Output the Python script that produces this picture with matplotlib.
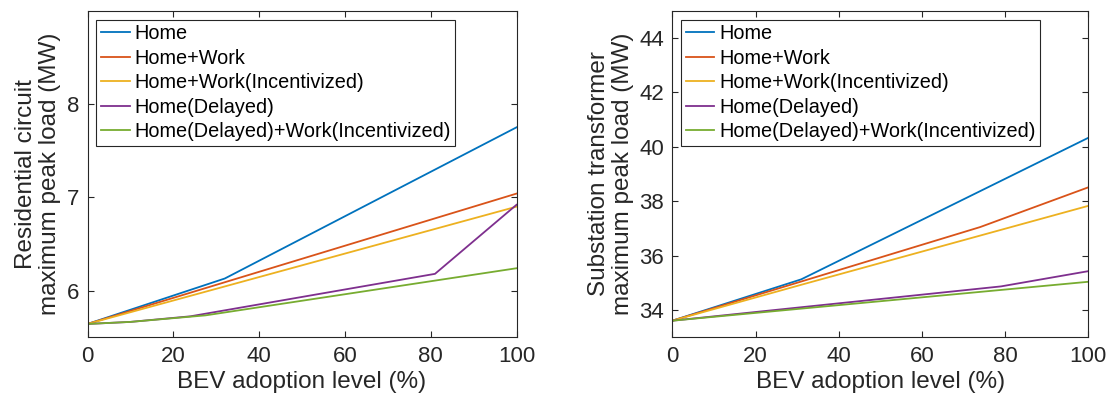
import matplotlib
matplotlib.use("Agg")
import matplotlib.pyplot as plt

plt.rcParams['font.family'] = ['Liberation Sans', 'DejaVu Sans']

series_names = ["Home", "Home+Work", "Home+Work(Incentivized)", "Home(Delayed)",
                "Home(Delayed)+Work(Incentivized)"]
colors = ["#0072BD", "#D95319", "#EDB120", "#7E2F8E", "#77AC30"]

# Left panel: residential circuit (MW)
res_home_x = [0, 32, 100]
res_home_y = [5.643, 6.13, 7.75]
res_hw_x = [0, 32, 100]
res_hw_y = [5.643, 6.09, 7.04]
res_hwi_x = [0, 32, 100]
res_hwi_y = [5.643, 6.045, 6.90]
res_hd_x = [0, 10, 24, 81, 100]
res_hd_y = [5.643, 5.665, 5.725, 6.18, 6.92]
res_hdwi_x = [0, 10, 27.5, 100]
res_hdwi_y = [5.643, 5.665, 5.735, 6.24]

# Right panel: substation transformer (MW)
sub_home_x = [0, 31, 100]
sub_home_y = [33.61, 35.13, 40.33]
sub_hw_x = [0, 31, 74, 100]
sub_hw_y = [33.61, 35.05, 37.05, 38.51]
sub_hwi_x = [0, 31, 100]
sub_hwi_y = [33.61, 34.93, 37.83]
sub_hd_x = [0, 79, 100]
sub_hd_y = [33.61, 34.87, 35.43]
sub_hdwi_x = [0, 79, 100]
sub_hdwi_y = [33.61, 34.74, 35.04]

x_ticks = [0, 20, 40, 60, 80, 100]
res_yticks = [6, 7, 8]
sub_yticks = [34, 36, 38, 40, 42, 44]

fig = plt.figure(figsize=(11.11, 4.04), dpi=100)
axL = fig.add_axes([87.5 / 1111, 1 - 337.3 / 404, 429 / 1111, 326.6 / 404])
axR = fig.add_axes([672.3 / 1111, 1 - 337.3 / 404, 416 / 1111, 326.6 / 404])

AX_COLOR = "#262626"

def style(ax, ylim, yticks, ylabel):
    ax.set_xlim(0, 100)
    ax.set_ylim(*ylim)
    ax.set_xticks(x_ticks)
    ax.set_yticks(yticks)
    ax.tick_params(direction='in', length=4, width=0.8, top=True, right=True,
                   labelsize=16, colors=AX_COLOR, pad=6)
    for s in ax.spines.values():
        s.set_color(AX_COLOR)
        s.set_linewidth(0.8)
    ax.set_xlabel("BEV adoption level (%)", fontsize=17.5, color=AX_COLOR, labelpad=3)
    ax.set_ylabel(ylabel, fontsize=17.5, color=AX_COLOR, labelpad=4, linespacing=1.12)
    leg = ax.legend(loc='upper left', fontsize=14.3, handlelength=1.45,
                    handletextpad=0.25, borderaxespad=0.45, fancybox=False,
                    framealpha=1, edgecolor=AX_COLOR, labelspacing=0.28,
                    borderpad=0.22)
    leg.get_frame().set_linewidth(0.8)
    for t in leg.get_texts():
        t.set_color("black")

lw = 1.3
left_data = [(res_home_x, res_home_y), (res_hw_x, res_hw_y), (res_hwi_x, res_hwi_y),
             (res_hd_x, res_hd_y), (res_hdwi_x, res_hdwi_y)]
right_data = [(sub_home_x, sub_home_y), (sub_hw_x, sub_hw_y), (sub_hwi_x, sub_hwi_y),
              (sub_hd_x, sub_hd_y), (sub_hdwi_x, sub_hdwi_y)]

for (x, y), c, n in zip(left_data, colors, series_names):
    axL.plot(x, y, color=c, lw=lw, label=n)
for (x, y), c, n in zip(right_data, colors, series_names):
    axR.plot(x, y, color=c, lw=lw, label=n)

style(axL, (5.5, 9.0), res_yticks, "Residential circuit\nmaximum peak load (MW)")
style(axR, (33, 45), sub_yticks, "Substation transformer\nmaximum peak load (MW)")

fig.savefig("out.png", dpi=100)
